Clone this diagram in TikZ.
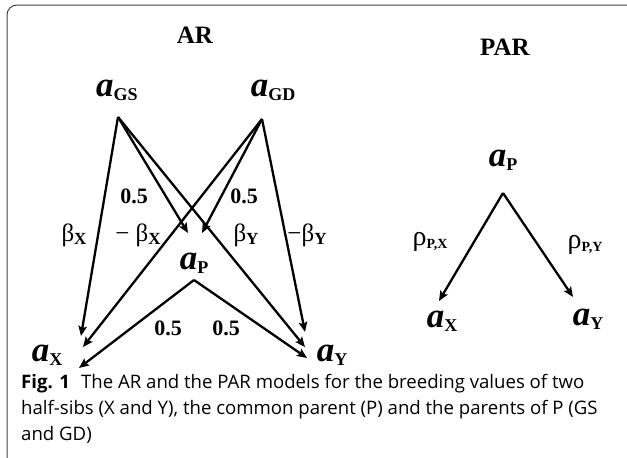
\documentclass[tikz,border=0pt]{standalone}
\usepackage{fontspec}
\setmainfont{Liberation Serif}
\newfontfamily\capfont{Open Sans}
\usetikzlibrary{arrows.meta}
\newcommand{\av}[1]{{\fontsize{35}{35}\selectfont\bfseries\itshape a}\raisebox{-4pt}{\fontsize{18}{18}\selectfont\bfseries #1}}
\newcommand{\bet}[2]{{\fontsize{25}{25}\selectfont #1β}\raisebox{-3pt}{\fontsize{17}{17}\selectfont\bfseries #2}}
\newcommand{\rh}[1]{{\fontsize{28}{28}\selectfont ρ}\raisebox{-3pt}{\fontsize{14}{14}\selectfont\bfseries #1}}
\begin{document}
\begin{tikzpicture}[x=1pt,y=-1pt,
  lbl/.style={inner sep=0pt,anchor=center},
  num/.style={lbl,font=\fontsize{22}{22}\selectfont\bfseries},
  ttl/.style={lbl,font=\fontsize{25}{25}\selectfont\bfseries},
  arr/.style={line width=2.3pt,-{Stealth[length=10pt,width=8.5pt,inset=2pt]}},
  capline/.style={inner sep=0pt,anchor=base west,font=\capfont\fontsize{18.6}{18.6}\selectfont}]
\useasboundingbox (0,0) rectangle (627,458);
\draw[line width=1pt,black!75,rounded corners=10pt] (627,5) -- (7,5) -- (7,458);

% AR model
\node[ttl] (ar) at (195,35) {AR};
\node[lbl] (gs) at (117,90) {\av{GS}};
\node[lbl] (gd) at (273,90) {\av{GD}};
\node[lbl] (p) at (194,263) {\av{P}};
\node[lbl] (x) at (47,355) {\av{X}};
\node[lbl] (y) at (332,355) {\av{Y}};

\coordinate (gsA) at (118,117);
\coordinate (gdA) at (262,119);
\coordinate (pA) at (194,280);
\coordinate (pL) at (188,233);
\coordinate (pR) at (202,233);
\coordinate (x1) at (81,336);
\coordinate (x2) at (83,347);
\coordinate (x3) at (79,368);
\coordinate (y1) at (305,332);
\coordinate (y2) at (305,347);
\coordinate (y3) at (307,358);

\draw[arr] (gsA) -- (x1);
\draw[arr] (gsA) -- (pL);
\draw[arr] (gsA) -- (y2);
\draw[arr] (gdA) -- (x2);
\draw[arr] (gdA) -- (pR);
\draw[arr] (gdA) -- (y1);
\draw[arr] (pA) -- (x3);
\draw[arr] (pA) -- (y3);

\node[num] (n1) at (134,196) {0.5};
\node[num] (n2) at (244,196) {0.5};
\node[num] (n3) at (168,328) {0.5};
\node[num] (n4) at (226,328) {0.5};
\node[lbl] (b1) at (74,235) {\bet{}{X}};
\node[lbl] (b2) at (138,235) {\bet{− }{X}};
\node[lbl] (b3) at (246,235) {\bet{}{Y}};
\node[lbl] (b4) at (307,235) {\bet{−}{Y}};

% PAR model
\node[ttl] (par) at (505,47) {PAR};
\node[lbl] (pp) at (503,160) {\av{P}};
\node[lbl] (px) at (442,321) {\av{X}};
\node[lbl] (py) at (588,319) {\av{Y}};
\coordinate (ppA) at (503,193);
\coordinate (pxT) at (439,301);
\coordinate (pyT) at (573,297);
\draw[arr] (ppA) -- (pxT);
\draw[arr] (ppA) -- (pyT);
\node[lbl] (r1) at (430,242) {\rh{P,X}};
\node[lbl] (r2) at (585,245) {\rh{P,Y}};

% caption
\node[capline] (c1) at (21,388) {\textbf{Fig. 1}\hspace{0.6em}The AR and the PAR models for the breeding values of two};
\node[capline] (c2) at (21,414) {half-sibs (X and Y), the common parent (P) and the parents of P (GS};
\node[capline] (c3) at (21,440) {and GD)};
\end{tikzpicture}
\end{document}
